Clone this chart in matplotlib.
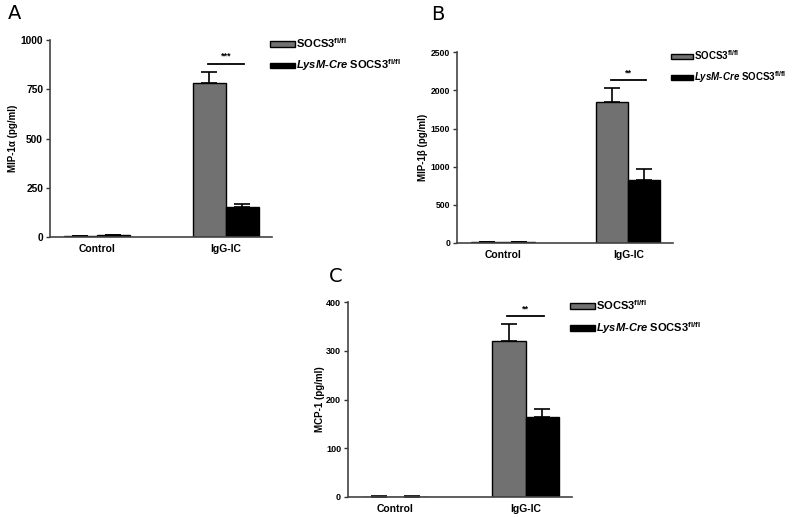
import numpy as np
import matplotlib
matplotlib.use('Agg')
import matplotlib.pyplot as plt
from matplotlib.patches import Patch

plt.rcParams['font.family'] = 'Liberation Sans'
plt.rcParams['font.weight'] = 'bold'
plt.rcParams['mathtext.fontset'] = 'custom'
plt.rcParams['mathtext.rm'] = 'Liberation Sans:bold'
plt.rcParams['mathtext.it'] = 'Liberation Sans:italic:bold'
plt.rcParams['mathtext.bf'] = 'Liberation Sans:bold'

groups = ['Control', 'IgG-IC']

# panel A - MIP-1a
mip1a_wt = [3, 780]
mip1a_wt_err = [1, 58]
mip1a_ko = [8, 150]
mip1a_ko_err = [3, 17]

# panel B - MIP-1b
mip1b_wt = [8, 1850]
mip1b_wt_err = [2, 175]
mip1b_ko = [8, 830]
mip1b_ko_err = [2, 135]

# panel C - MCP-1
mcp1_wt = [1, 320]
mcp1_wt_err = [0.5, 35]
mcp1_ko = [1, 165]
mcp1_ko_err = [0.5, 16]

gray = '#717171'
w = 0.256

fig = plt.figure(figsize=(8, 5.17), dpi=100)

def panel(rect, letter, letter_xy, wt, wt_err, ko, ko_err, ymax, yticks, ylabel, label_x,
          stars, sig_y, leg_size, tick_size):
    ax = fig.add_axes(rect)
    x = np.arange(len(groups))
    ekw = dict(ecolor='black', elinewidth=1.2, capsize=6, capthick=1.2)
    ax.bar(x - w/2, wt, w, color=gray, edgecolor='black', linewidth=1.0,
           yerr=[np.zeros(len(wt)), wt_err], error_kw=ekw)
    ax.bar(x + w/2, ko, w, color='black', edgecolor='black', linewidth=1.0,
           yerr=[np.zeros(len(ko)), ko_err], error_kw=ekw)
    ax.set_xlim(-0.364, 1.357)
    ax.set_ylim(0, ymax)
    ax.set_yticks(yticks)
    ax.set_xticks(x)
    ax.set_xticklabels(groups, fontsize=7.5, fontweight='bold')
    ax.tick_params(axis='x', length=0, pad=5)
    ax.tick_params(axis='y', length=3, width=1, labelsize=tick_size, pad=2, color='#333333')
    for lab in ax.get_yticklabels():
        lab.set_fontweight('bold')
    for s in ['top', 'right']:
        ax.spines[s].set_visible(False)
    for s in ['left', 'bottom']:
        ax.spines[s].set_color('#444444')
        ax.spines[s].set_linewidth(1.2)
    ax.set_ylabel(ylabel, fontsize=7, fontweight='bold')
    ax.yaxis.set_label_coords(label_x, 0.5)
    # significance bar
    ax.plot([1 - 0.14, 1 + 0.14], [sig_y, sig_y], color='black', lw=1.3)
    ax.text(1.0, sig_y + ymax * 0.015, stars, ha='center', va='bottom', fontsize=6.5)
    handles = [Patch(facecolor=gray, edgecolor='black', linewidth=1.0),
               Patch(facecolor='black', edgecolor='black')]
    labels = [r'SOCS3$^{\mathregular{fl/fl}}$',
              r'$\mathit{LysM}$-$\mathit{Cre}$ SOCS3$^{\mathregular{fl/fl}}$']
    ax.legend(handles, labels, loc='upper left', bbox_to_anchor=(0.99, 1.02),
              frameon=False, handlelength=2.3, handleheight=0.45,
              handletextpad=0.1, borderpad=0, borderaxespad=0, labelspacing=0.7,
              prop={'weight': 'bold', 'size': leg_size})
    fig.text(letter_xy[0] / 800, 1 - letter_xy[1] / 517, letter, fontsize=14,
             fontweight='normal', va='top', family='DejaVu Sans')
    return ax

panel([50/800, 0.5416, 222/800, 0.381], 'A', (8, 4), mip1a_wt, mip1a_wt_err, mip1a_ko, mip1a_ko_err,
      1000, [0, 250, 500, 750, 1000], 'MIP-1α (pg/ml)', -0.144, '***', 880, 8, 7.4)
panel([457/800, 0.530, 216/800, 0.369], 'B', (431, 5), mip1b_wt, mip1b_wt_err, mip1b_ko, mip1b_ko_err,
      2500, [0, 500, 1000, 1500, 2000, 2500], 'MIP-1β (pg/ml)', -0.134, '**', 2135, 7, 6.2)
panel([348/800, 0.0387, 224/800, 0.377], 'C', (329, 267), mcp1_wt, mcp1_wt_err, mcp1_ko, mcp1_ko_err,
      400, [0, 100, 200, 300, 400], 'MCP-1 (pg/ml)', -0.103, '**', 371, 8, 6.5)

fig.savefig('out.png', dpi=100)
